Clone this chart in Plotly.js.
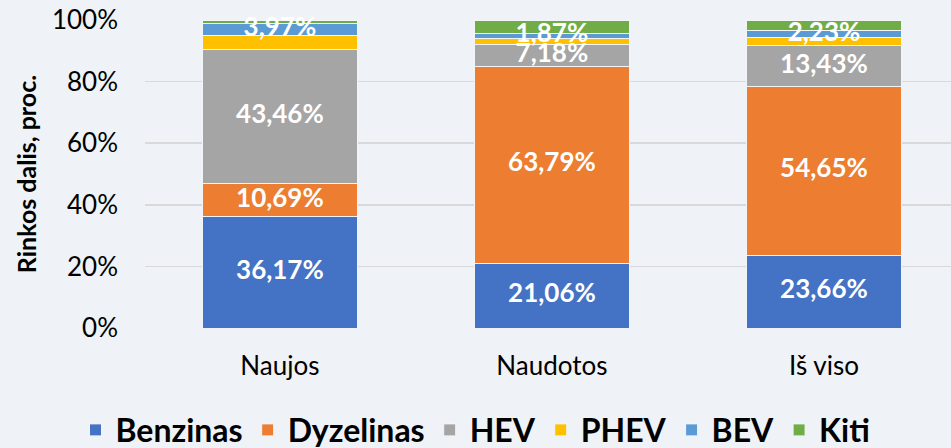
<!DOCTYPE html>
<html>
<head>
<meta charset="utf-8">
<script src="https://cdn.plot.ly/plotly-3.0.1.min.js"></script>
<style>
html,body{margin:0;padding:0;background:#EFF2F6;}
#chart{width:951px;height:448px;}
</style>
</head>
<body>
<div id="chart"></div>
<script>
const categories = ["Naujos", "Naudotos", "Iš viso"];
const benzinas   = [36.17, 21.06, 23.66];
const dyzelinas  = [10.69, 63.79, 54.65];
const hev        = [43.46, 7.18, 13.43];
const phev       = [4.61, 1.85, 2.50];
const bev        = [3.97, 1.87, 2.23];
const kiti       = [1.10, 4.25, 3.53];
const yTickVals  = [0, 20, 40, 60, 80, 100];
const yTickText  = ["0%", "20%", "40%", "60%", "80%", "100%"];

const seriesNames  = ["Benzinas", "Dyzelinas", "HEV", "PHEV", "BEV", "Kiti"];
const seriesVals   = [benzinas, dyzelinas, hev, phev, bev, kiti];
const seriesColors = ['#4472C4', '#ED7D31', '#A5A5A5', '#FFC000', '#5B9BD5', '#70AD47'];
const labelled     = ["Benzinas", "Dyzelinas", "HEV", "BEV"];

const fmt = v => v.toFixed(2).replace('.', ',') + '%';

const data = [];
seriesNames.forEach((name, i) => {
  data.push({
    type: 'bar', name: name, x: categories, y: seriesVals[i],
    marker: {color: seriesColors[i], line: {color: '#F2F5F8', width: 1}},
    hoverinfo: 'none',
    width: 0.57
  });
});

// data labels drawn on top of all bars, at the middle of each stacked segment
const base = categories.map(() => 0);
seriesNames.forEach((name, i) => {
  const vals = seriesVals[i];
  const mids = vals.map((v, k) => base[k] + v / 2);
  vals.forEach((v, k) => { base[k] += v; });
  if (labelled.includes(name)) {
    data.push({
      type: 'scatter', mode: 'text', x: categories, y: mids,
      text: vals.map(fmt), textposition: 'middle center',
      textfont: {family: 'Lato, sans-serif', size: 26, color: '#FFFFFF', weight: 'bold'},
      showlegend: false, hoverinfo: 'none', cliponaxis: false
    });
  }
});

const layout = {
  width: 951, height: 448,
  barmode: 'stack',
  paper_bgcolor: '#EFF2F6',
  plot_bgcolor: '#EFF2F6',
  margin: {l: 145, r: 0, t: 20, b: 120},
  font: {family: 'Lato, sans-serif', color: '#000000'},
  xaxis: {
    range: [-0.496, 2.467],
    tickfont: {size: 26, color: '#000'},
    showgrid: false, zeroline: false,
    showline: false, ticks: '',
    ticklabelstandoff: 20
  },
  yaxis: {
    range: [0, 100],
    tickvals: yTickVals, ticktext: yTickText,
    tickfont: {size: 26, color: '#000'},
    gridcolor: '#D9D9D9', gridwidth: 1.5,
    zeroline: false, showline: false,
    ticklabelstandoff: 26,
    title: {text: 'Rinkos dalis, proc.', font: {size: 25, weight: 'bold', color: '#000'}, standoff: 8}
  },
  showlegend: true,
  legend: {
    orientation: 'h', x: 0.5, xref: 'container', xanchor: 'center',
    y: 0.04, yref: 'container', yanchor: 'middle',
    font: {size: 32, weight: 'bold', color: '#000'},
    traceorder: 'normal',
    itemclick: false, itemdoubleclick: false
  }
};

Plotly.newPlot('chart', data, layout, {displayModeBar: false, staticPlot: true});
</script>
</body>
</html>
